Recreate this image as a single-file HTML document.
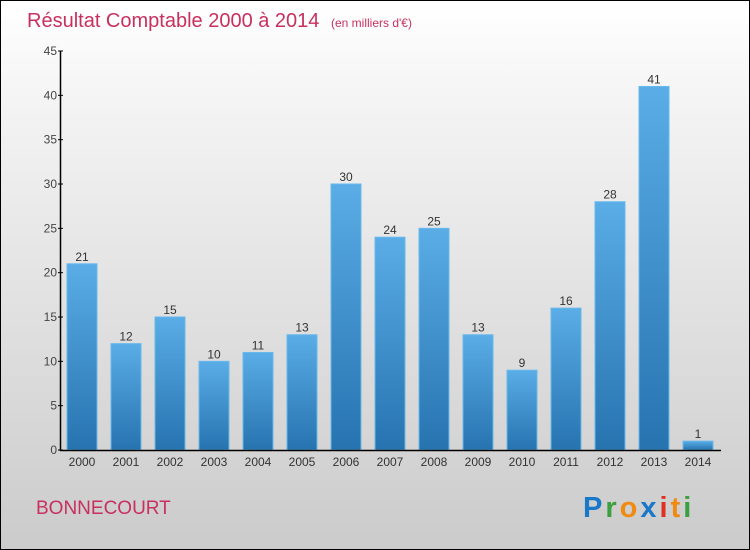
<!DOCTYPE html>
<html><head><meta charset="utf-8"><style>
body{margin:0}
#c{position:relative;width:748px;height:548px;border:1px solid #000;background:linear-gradient(#fff,#f3f3f3 20%,#cbcbcb);font-family:"Liberation Sans",sans-serif;overflow:hidden}
</style></head><body>
<div id="c">
<svg width="748" height="548">
<defs><linearGradient id="bg" x1="0" y1="0" x2="0" y2="1"><stop offset="0" stop-color="#5aade6"/><stop offset="1" stop-color="#2673b0"/></linearGradient></defs>
<text x="26" y="26" font-size="20" fill="#c8305f">Résultat Comptable 2000 à 2014 <tspan font-size="12" dx="6">(en milliers d'€)</tspan></text>
<g id="bars"></g>
<g id="axes"></g>
<text x="35" y="513" font-size="19" fill="#c8305f">BONNECOURT</text>
<text x="582" y="516" font-size="29" font-weight="bold" letter-spacing="3"><tspan fill="#1a78c8">P</tspan><tspan fill="#3aa040">r</tspan><tspan fill="#f08a10">o</tspan><tspan fill="#1a78c8">x</tspan><tspan fill="#e03020">i</tspan><tspan fill="#f08a10">t</tspan><tspan fill="#3aa040">i</tspan></text>
</svg></div>
<script>
const years=["2000","2001","2002","2003","2004","2005","2006","2007","2008","2009","2010","2011","2012","2013","2014"];
const values=[21,12,15,10,11,13,30,24,25,13,9,16,28,41,1];
const yTicks=[0,5,10,15,20,25,30,35,40,45];
const NS="http://www.w3.org/2000/svg";
const y0=449,yTop=50,yMax=45,x0=81,step=44,bw=30;
const ys=v=>y0-(y0-yTop)*v/yMax;
const xs=i=>x0+i*step;
const bars=document.getElementById('bars'),axes=document.getElementById('axes');
function mk(t,a,p){const e=document.createElementNS(NS,t);for(const k in a)e.setAttribute(k,a[k]);p.appendChild(e);return e;}
values.forEach((v,i)=>{
 const r=mk('rect',{x:xs(i)-bw/2,y:ys(v),width:bw,height:y0-ys(v),fill:'url(#bg)',stroke:'#6ab8ec','stroke-width':1},bars);
 
 
 const t=mk('text',{x:xs(i),y:ys(v)-3,'font-size':12,fill:'#333','text-anchor':'middle'},bars);t.textContent=v;
 
 
 const xl=mk('text',{x:xs(i),y:y0+16,'font-size':12,fill:'#333','text-anchor':'middle'},axes);xl.textContent=years[i];
 
 
});
const ya=mk('line',{x1:59.5,y1:yTop,x2:59.5,y2:y0+1,stroke:'#000','stroke-width':1.5},axes);


const xa=mk('line',{x1:59,y1:y0+0.5,x2:720,y2:y0+0.5,stroke:'#000','stroke-width':1.5},axes);


yTicks.forEach(v=>{
 mk('line',{x1:57,y1:ys(v),x2:62,y2:ys(v),stroke:'#000'},axes);
 const t=mk('text',{x:56,y:ys(v)+4,'font-size':12,fill:'#444','text-anchor':'end'},axes);t.textContent=v;
 
 
});
</script></body></html>
